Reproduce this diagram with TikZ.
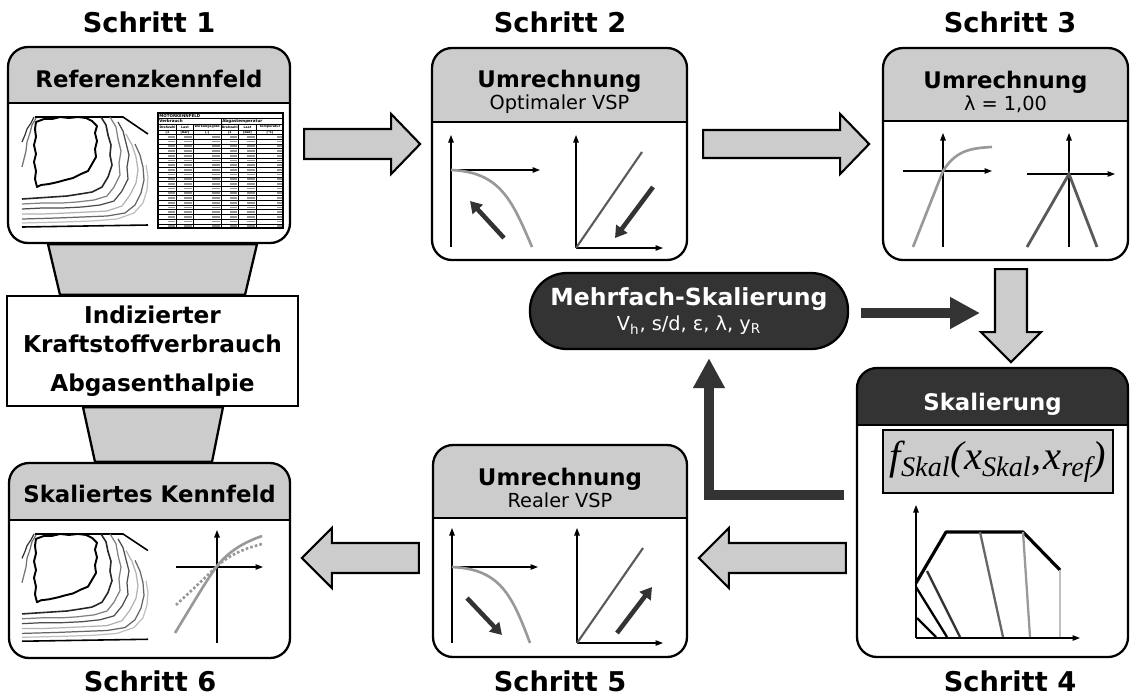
\documentclass[tikz,border=0pt]{standalone}
\usepackage{fontspec}
\setmainfont{DejaVu Sans}
\newfontfamily\formelfont{Liberation Serif}
\usetikzlibrary{arrows.meta,calc,backgrounds}

\definecolor{hellgrau}{RGB}{204,204,204}
\definecolor{dunkelgrau}{RGB}{51,51,51}
\definecolor{mittelgrau}{RGB}{153,153,153}
\definecolor{liniengrau}{RGB}{90,90,90}

\newcommand{\unter}[1]{{\mdseries\fontsize{11}{12.5}\selectfont #1}}

\tikzset{
    kasten/.style={draw, fill=white, line width=1.3pt, rounded corners=4mm, inner sep=0pt},
    kopf/.style 2 args={path picture={
        \fill [#2, sharp corners]
            (path picture bounding box.north west)
            rectangle
            ([yshift=-#1]path picture bounding box.north east);
        \draw [line width=1.3pt, sharp corners]
            ([yshift=-#1]path picture bounding box.north west)
            --
            ([yshift=-#1]path picture bounding box.north east);
    }},
    schritt/.style={font=\fontsize{15.5}{18}\selectfont\bfseries},
    kopftext/.style={font=\fontsize{13}{12.5}\selectfont\bfseries, align=center, inner sep=0pt},
    textkasten/.style={draw, fill=white, line width=1.3pt, inner sep=0pt, align=center,
        font=\fontsize{13.2}{17}\selectfont\bfseries},
    mehrfach/.style={draw, fill=dunkelgrau, text=white, line width=1.3pt, rounded corners=7.4mm,
        inner sep=0pt, align=center, font=\fontsize{13.4}{14.5}\selectfont\bfseries},
    formel/.style={draw, fill=hellgrau, line width=0.9pt, inner sep=0pt,
        font=\fontsize{23}{26}\formelfont\itshape},
    trichter/.style={draw, fill=hellgrau, line width=1.3pt},
    blockpfeil/.style={draw, fill=hellgrau, line width=1.2pt, line join=miter},
    verbinder/.style={draw=dunkelgrau, line width=2mm, -{Triangle[length=6mm, width=6mm]}},
    achse/.style={line width=0.6pt, -{Triangle[length=1.5mm, width=1.1mm]}},
    kurve/.style={mittelgrau, line width=1.5pt},
    gerade/.style={liniengrau, line width=1.2pt},
    richtung/.style={dunkelgrau, line width=2.6pt, -{Triangle[length=2.3mm, width=2.7mm]}},
    hoehe/.style={line width=0.7pt, line join=round},
    tabtext/.style={inner sep=0pt, font=\fontsize{2.3}{2.6}\selectfont\bfseries},
    spaltentext/.style={inner sep=0pt, font=\fontsize{1.8}{2}\selectfont\bfseries},
    zahl/.style={mittelgrau, line width=1pt},
    kennfeld/.pic={
        % Rand
        \draw [line width=0.9pt]
            (13,2) -- (101,2) -- (126,19);
        \draw [line width=0.9pt]
            (0,112) -- (126,110);
        % Linien am linken Rand
        \draw [hoehe, black!80]
            (0,27) -- (3,20) -- (5,14) -- (9,8) -- (12,2);
        \draw [hoehe, black!55]
            (0,52) -- (2,44) -- (4,36) -- (5,27) -- (8,18) -- (10,10) -- (14,3);
        % innerste Linie
        \draw [hoehe, line width=1.1pt]
            (14,7) -- (22,4) -- (30,4) -- (38,2) -- (47,3) -- (56,2) -- (64,3)
            -- (70,6) -- (75,11) -- (73,18) -- (75,26) -- (73,34) -- (74,42)
            -- (70,49) -- (66,56) -- (59,59) -- (51,63) -- (43,65) -- (36,67)
            -- (27,69) -- (19,70) -- (15,72) -- (13,64) -- (14,56) -- (12,47)
            -- (14,39) -- (12,30) -- (14,22) -- (13,14) -- cycle;
        % aeussere Linien
        \draw [hoehe, line width=0.9pt, black!85]
            (79,2) -- (84,10) -- (86,20) -- (89,30) -- (88,40) -- (90,50) -- (86,62)
            -- (80,72) -- (70,77) -- (58,79) -- (45,81) -- (30,82) -- (15,83) -- (0,84);
        \draw [hoehe, black!50]
            (88,2) -- (94,12) -- (96,24) -- (99,36) -- (97,48) -- (98,60) -- (92,72)
            -- (85,81) -- (72,85) -- (55,87) -- (40,88) -- (20,88) -- (0,89);
        \draw [hoehe, black!70]
            (96,7) -- (101,16) -- (104,28) -- (107,40) -- (105,52) -- (106,64)
            -- (100,76) -- (92,86) -- (78,90) -- (60,92) -- (40,93) -- (20,93) -- (0,94);
        \draw [hoehe, black!30]
            (104,19) -- (110,30) -- (114,42) -- (116,55) -- (114,68) -- (108,80)
            -- (100,91) -- (85,96) -- (65,97) -- (45,98) -- (20,99) -- (0,99);
        \draw [hoehe, black!60]
            (113,29) -- (118,40) -- (121,52) -- (122,65) -- (119,78) -- (113,90)
            -- (103,98) -- (85,101) -- (60,102) -- (35,103) -- (0,104);
        \draw [hoehe, black!25]
            (124,50) -- (126,62) -- (125,75) -- (121,88) -- (112,98) -- (95,104)
            -- (70,106) -- (40,107) -- (0,108);
    }
}

\begin{document}
\begin{tikzpicture}[x=0.2mm, y=-0.2mm]

    \useasboundingbox (0,0) rectangle (1135,696);

    % Kaesten
    \node [kasten, kopf={11.2mm}{hellgrau}, minimum width=56.4mm, minimum height=39.2mm]
        (s1) at (149,145) {};
    \node [kasten, kopf={14.8mm}{hellgrau}, minimum width=51mm, minimum height=42.4mm]
        (s2) at (559.5,154) {};
    \node [kasten, kopf={14.6mm}{hellgrau}, minimum width=49mm, minimum height=42.4mm]
        (s3) at (1005.5,154) {};
    \node [kasten, kopf={11.4mm}{dunkelgrau}, minimum width=54.2mm, minimum height=57.8mm]
        (s4) at (992.5,512.5) {};
    \node [kasten, kopf={14.6mm}{hellgrau}, minimum width=50.8mm, minimum height=42.4mm]
        (s5) at (560,551) {};
    \node [kasten, kopf={11.4mm}{hellgrau}, minimum width=56.2mm, minimum height=39mm]
        (s6) at (149.5,560.5) {};

    \node [kopftext] (s1k) at ($(s1.north)+(0,33)$) {Referenzkennfeld};
    \node [kopftext] (s2k) at ($(s2.north)+(0,45)$) {Umrechnung\\\unter{Optimaler VSP}};
    \node [kopftext] (s3k) at ($(s3.north)+(0,45)$) {Umrechnung\\\unter{λ = 1,00}};
    \node [kopftext, text=white] (s4k) at ($(s4.north)+(0,37)$) {Skalierung};
    \node [kopftext] (s5k) at ($(s5.north)+(0,44)$) {Umrechnung\\\unter{Realer VSP}};
    \node [kopftext] (s6k) at ($(s6.north)+(0,32)$) {Skaliertes Kennfeld};

    \node [schritt] (l1) at (149,22) {Schritt 1};
    \node [schritt] (l2) at (560,22) {Schritt 2};
    \node [schritt] (l3) at (1010,22) {Schritt 3};
    \node [schritt] (l4) at (1010,681) {Schritt 4};
    \node [schritt] (l5) at (560,681) {Schritt 5};
    \node [schritt] (l6) at (150,681) {Schritt 6};

    % linke Spalte
    \node [textkasten, minimum width=58.2mm, minimum height=22mm] (t) at (152.5,351)
        {Indizierter\\Kraftstoffverbrauch\\[5pt]Abgasenthalpie};

    \begin{pgfonlayer}{background}
        \draw [trichter]
            ($(s1.south)+(-101,0)$)
            -- ($(s1.south)+(108,0)$)
            -- ($(t.north)+(92.5,0)$)
            -- ($(t.north)+(-92.5,0)$)
            -- cycle;
        \draw [trichter]
            ($(t.south)+(-69.5,0)$)
            -- ($(t.south)+(70.5,0)$)
            -- ($(s6.north)+(62.5,0)$)
            -- ($(s6.north)+(-54.5,0)$)
            -- cycle;
    \end{pgfonlayer}

    % Mehrfach-Skalierung
    \node [mehrfach, minimum width=63.6mm, minimum height=15.2mm] (m) at (689,311)
        {Mehrfach-Skalierung\\\unter{V\textsubscript{h}, s/d, ε, λ, y\textsubscript{R}}};

    \coordinate (k34) at (980,313);
    \draw [verbinder] ($(m.east)+(12,2)$) -- (k34);
    \draw [verbinder] ($(s4.west)+(-12,-17.5)$) -| ($(m.south)+(20,8)$);

    % Blockpfeile
    \draw [blockpfeil]
        ($(s1.east)+(13,-1)$)
        -- ++(0,-15) -- ++(87,0) -- ++(0,-15) -- ++(29,30)
        -- ++(-29,30) -- ++(0,-15) -- ++(-87,0) -- cycle;
    \draw [blockpfeil]
        ($(s2.east)+(15,-10)$)
        -- ++(0,-14) -- ++(137,0) -- ++(0,-16) -- ++(29,30)
        -- ++(-29,30) -- ++(0,-16) -- ++(-137,0) -- cycle;
    \draw [blockpfeil]
        ($(s3.south)+(5.5,8)$)
        -- ++(-16,0) -- ++(0,63) -- ++(-14,0) -- ++(30,30)
        -- ++(30,-30) -- ++(-14,0) -- ++(0,-63) -- cycle;
    \draw [blockpfeil]
        ($(s4.west)+(-10,45.5)$)
        -- ++(0,-15) -- ++(-117,0) -- ++(0,-15) -- ++(-30,30)
        -- ++(30,30) -- ++(0,-15) -- ++(117,0) -- cycle;
    \draw [blockpfeil]
        ($(s5.west)+(-13,7)$)
        -- ++(0,-15) -- ++(-87,0) -- ++(0,-15) -- ++(-30,30)
        -- ++(30,30) -- ++(0,-15) -- ++(87,0) -- cycle;

    % Schritt 1: Kennfeld und Tabelle
    \pic at (22,115) {kennfeld};

    \draw [line width=0.7pt] (158,113) rectangle (283,228);
    \draw [line width=0.4pt]
        (158,118.5) -- (283,118.5)
        (158,124) -- (283,124)
        (158,130) -- (283,130)
        (221,118.5) -- (221,228);
    \draw [line width=0.6pt] (158,134.5) -- (283,134.5);
    \foreach \i in {1,...,19}
        \draw [line width=0.25pt] (158,{134.5+4.7*\i}) -- (283,{134.5+4.7*\i});
    \foreach \x in {176.7,193.3,238.3,256.7}
        \draw [line width=0.3pt] (\x,124) -- (\x,228);

    \node [tabtext, anchor=west] (tabkopf) at (159,115.8) {MOTORKENNFELD};
    \node [tabtext, anchor=west] (tabverbrauch) at (159,121.3) {Verbrauch};
    \node [tabtext, anchor=west] (tababgas) at (222,121.3) {Abgastemperatur};
    \foreach \x/\txt [count=\n] in {167.5/Drehzahl, 185/Last, 207.2/Wirkungsgrad,
            229.7/Drehzahl, 247.5/Last, 270/Temperatur}
        \node [spaltentext] (spalte\n) at (\x,127.1) {\txt};
    \foreach \x/\txt [count=\n] in {167.5/[1/min], 185/[bar], 207.2/[-],
            229.7/[1/min], 247.5/[bar], 270/[°C]}
        \node [spaltentext] (einheit\n) at (\x,132.3) {\txt};
    \foreach \i in {0,...,19} {
        \foreach \r/\w in {176.7/7, 193.3/8, 221/8, 238.3/7, 256.7/8, 283.3/5}
            \draw [zahl] ({\r-1.5-\w},{136.9+4.7*\i}) -- ({\r-1.5},{136.9+4.7*\i});
    }

    % Schritt 2
    \draw [achse] (451,247) -- (451,135);
    \draw [achse] (451,170) -- (540,170);
    \draw [kurve] (451,170) .. controls (500,172) and (512,200) .. (532,247);
    \draw [richtung] (504,238) -- (470,201);
    \draw [achse] (576,248) -- (576,135);
    \draw [achse] (576,248) -- (663,248);
    \draw [gerade] (576,248) -- (642,152);
    \draw [richtung] (653,187) -- (615,238);

    % Schritt 3
    \draw [achse] (943,247) -- (943,133);
    \draw [achse] (903,171) -- (992,171);
    \draw [kurve] (913,247) -- (943,171) .. controls (955,152) and (968,148) .. (992,147);
    \draw [achse] (1069,247) -- (1069,133);
    \draw [achse] (1027,174) -- (1115,174);
    \draw [gerade, line width=1.6pt, line join=miter] (1027,247) -- (1069,174) -- (1097,247);

    % Schritt 4
    \node [formel, minimum width=46mm, minimum height=12.6mm] (f) at (998,461.5)
        {f\textsubscript{Skal}(x\textsubscript{Skal},\kern1pt x\textsubscript{ref})};
    \draw [achse] (916,638) -- (916,505);
    \draw [achse] (916,638) -- (1080,638);
    \draw [line width=1.8pt, line join=round]
        (916,583) -- (946,532) -- (1023,532) -- (1060,570);
    \draw [line width=1.3pt] (917,618) -- (936,637);
    \draw [line width=1.3pt] (916,587) -- (947,637);
    \draw [line width=1.3pt, black!80] (927,571) -- (960,637);
    \draw [line width=1.3pt, black!60] (980,532) -- (1003,637);
    \draw [line width=1.3pt, black!40] (1023,532) -- (1030,637);
    \draw [line width=1.3pt, black!25] (1060,570) -- (1060,637);

    % Schritt 5
    \draw [achse] (452,643) -- (452,528);
    \draw [achse] (452,567) -- (538,567);
    \draw [kurve] (452,567) .. controls (500,569) and (512,595) .. (530,643);
    \draw [richtung] (467,598) -- (502,635);
    \draw [achse] (577,643) -- (577,528);
    \draw [achse] (577,643) -- (663,643);
    \draw [gerade] (577,643) -- (643,548);
    \draw [richtung] (617,633) -- (652,587);

    % Schritt 6
    \pic [yscale=0.975] at (22,532) {kennfeld};
    \draw [achse] (217,643) -- (217,530);
    \draw [achse] (176,567) -- (263,567);
    \draw [kurve]
        (175,633)
        .. controls (195,600) and (208,578) .. (217,566)
        .. controls (230,550) and (245,542) .. (262,536);
    \draw [kurve, dash pattern=on 1.5pt off 1.2pt]
        (176,605)
        .. controls (192,590) and (205,578) .. (217,566)
        .. controls (232,553) and (247,548) .. (262,544);

\end{tikzpicture}
\end{document}
